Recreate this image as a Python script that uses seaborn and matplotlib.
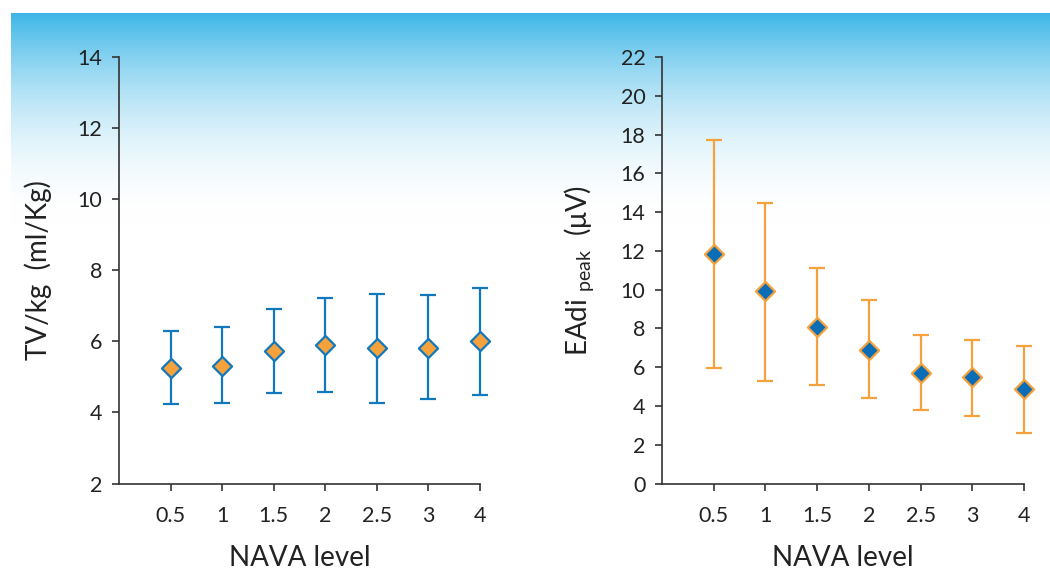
import numpy as np
import matplotlib
matplotlib.use("Agg")
import matplotlib.pyplot as plt
import seaborn as sns

# ---- data ----
nava_levels = ["0.5", "1", "1.5", "2", "2.5", "3", "4"]

tv_mean = [5.25, 5.30, 5.72, 5.89, 5.81, 5.81, 6.02]
tv_upper = [6.28, 6.41, 6.90, 7.22, 7.33, 7.29, 7.50]
tv_lower = [4.24, 4.26, 4.54, 4.57, 4.27, 4.37, 4.49]

eadi_mean = [11.86, 9.91, 8.06, 6.91, 5.69, 5.49, 4.87]
eadi_upper = [17.70, 14.46, 11.12, 9.46, 7.68, 7.40, 7.11]
eadi_lower = [5.98, 5.31, 5.09, 4.42, 3.77, 3.46, 2.61]

tv_yticks = [2, 4, 6, 8, 10, 12, 14]
eadi_yticks = list(range(0, 23, 2))

# ---- style ----
sns.set_theme(style="ticks")
plt.rcParams["font.family"] = ["Lato", "DejaVu Sans"]
plt.rcParams["mathtext.fontset"] = "custom"
plt.rcParams["mathtext.rm"] = "Lato"

BLUE = "#1278be"
ORANGE = "#f6a23c"
SPINE = "#333333"

fig = plt.figure(figsize=(10.5, 5.74), dpi=100)
fig.patch.set_facecolor("white")

# gradient background band
W, H = 1050, 574
gax = fig.add_axes([11 / W, (H - 225) / H, 1 - 11 / W, 212 / H], zorder=0)
t = np.linspace(0, 1, 256)[:, None]
a = (1 - t) ** 2
top = np.array([61, 182, 231]) / 255.0
img = np.ones((256, 2, 3))
for c in range(3):
    img[:, :, c] = 1 - a * (1 - top[c])
gax.imshow(img, aspect="auto", extent=[0, 1, 0, 1], origin="upper")
gax.set_axis_off()


def panel(rect, mean, lower, upper, line_color, fill_color, ylim, yticks, ylabel, labelpad):
    ax = fig.add_axes(rect, zorder=2)
    ax.set_facecolor("none")
    x = np.arange(len(nava_levels))
    m = np.array(mean)
    yerr = np.vstack([m - np.array(lower), np.array(upper) - m])
    eb = ax.errorbar(x, m, yerr=yerr, fmt="none", ecolor=line_color, elinewidth=1.6,
                     capsize=6, capthick=1.6, zorder=3)
    for art in eb.get_children():
        art.set_clip_on(False)
    sns.scatterplot(x=x, y=m, marker="D", s=95, color=fill_color,
                    edgecolor=line_color, linewidth=1.6, ax=ax, zorder=4, legend=False,
                    clip_on=False)
    ax.set_xlim(-1, len(nava_levels) - 1)
    ax.set_ylim(*ylim)
    ax.set_xticks(x)
    ax.set_xticklabels(nava_levels)
    ax.set_yticks(yticks)
    ax.set_yticklabels([str(v) for v in yticks])
    for s in ["top", "right"]:
        ax.spines[s].set_visible(False)
    for s in ["left", "bottom"]:
        ax.spines[s].set_color(SPINE)
        ax.spines[s].set_linewidth(1.2)
    ax.tick_params(axis="both", colors=SPINE, labelcolor="#222222", labelsize=15.5,
                   length=5, width=1.2)
    ax.tick_params(axis="y", pad=7)
    ax.tick_params(axis="x", pad=11)
    ax.set_xlabel("NAVA level", fontsize=20, color="#222222", labelpad=14)
    ax.set_ylabel(ylabel, fontsize=20, color="#222222", labelpad=labelpad)
    return ax


panel([119 / W, (H - 483.5) / H, 361 / W, 426.5 / H], tv_mean, tv_lower, tv_upper,
      BLUE, ORANGE, (2, 14), tv_yticks, "TV/kg  (ml/Kg)", 18)
panel([662 / W, (H - 483.5) / H, 362 / W, 426.5 / H], eadi_mean, eadi_lower, eadi_upper,
      ORANGE, "#0a6db5", (0, 22), eadi_yticks, r"EAdi $_{\mathregular{peak}}$  (μV)", 17)

fig.savefig("out.png", dpi=100, facecolor="white")
